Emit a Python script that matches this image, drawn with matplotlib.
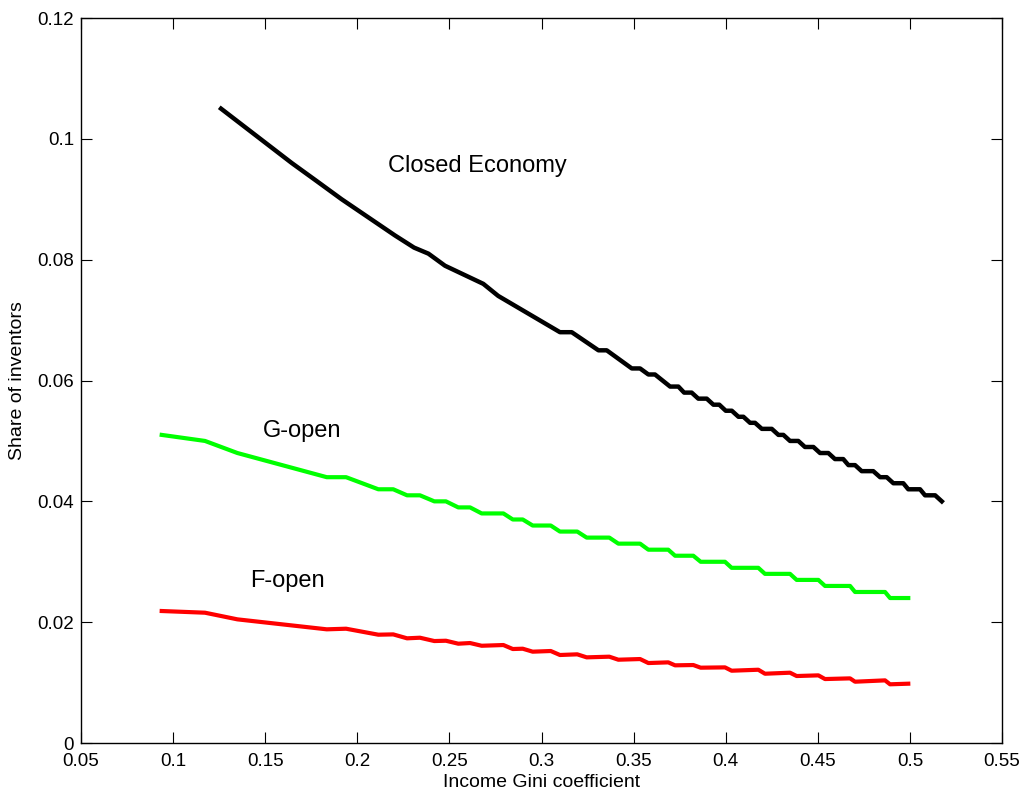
import matplotlib.pyplot as plt

# punkty zalamania
gini_closed = [0.126, 0.1644, 0.178, 0.1915, 0.2205, 0.2308, 0.2386, 0.2476, 0.2684, 0.2765,
               0.3100, 0.3164, 0.3309, 0.3354, 0.3490, 0.3535, 0.3580, 0.3616, 0.3698, 0.3743,
               0.3774, 0.3815, 0.3851, 0.3897, 0.3933, 0.3965, 0.4000, 0.4033, 0.4069, 0.4096,
               0.4132, 0.4159, 0.4196, 0.4250, 0.4286, 0.4313, 0.4349, 0.4394, 0.4430, 0.4476,
               0.4512, 0.4557, 0.4593, 0.4638, 0.4666, 0.4702, 0.4738, 0.4801, 0.4838, 0.4874,
               0.4910, 0.4964, 0.4991, 0.5055, 0.5082, 0.5137, 0.5173]
share_closed = [0.105, 0.096, 0.093, 0.090, 0.084, 0.082, 0.081, 0.079, 0.076, 0.074,
                0.068, 0.068, 0.065, 0.065, 0.062, 0.062, 0.061, 0.061, 0.059, 0.059,
                0.058, 0.058, 0.057, 0.057, 0.056, 0.056, 0.055, 0.055, 0.054, 0.054,
                0.053, 0.053, 0.052, 0.052, 0.051, 0.051, 0.050, 0.050, 0.049, 0.049,
                0.048, 0.048, 0.047, 0.047, 0.046, 0.046, 0.045, 0.045, 0.044, 0.044,
                0.043, 0.043, 0.042, 0.042, 0.041, 0.041, 0.040]

gini_open = [0.0938, 0.1173, 0.1349, 0.1834, 0.1939, 0.2114, 0.2195, 0.2270, 0.2340, 0.2418,
             0.2481, 0.2548, 0.2612, 0.2675, 0.2793, 0.2844, 0.2898, 0.2952, 0.3050, 0.3100,
             0.3194, 0.3245, 0.3368, 0.3417, 0.3535, 0.3580, 0.3688, 0.3725, 0.3824, 0.3864,
             0.3996, 0.4032, 0.4177, 0.4213, 0.4349, 0.4385, 0.4503, 0.4539, 0.4675, 0.4702,
             0.4865, 0.4892, 0.4991]
share_g_open = [0.051, 0.050, 0.048, 0.044, 0.044, 0.042, 0.042, 0.041, 0.041, 0.040,
                0.040, 0.039, 0.039, 0.038, 0.038, 0.037, 0.037, 0.036, 0.036, 0.035,
                0.035, 0.034, 0.034, 0.033, 0.033, 0.032, 0.032, 0.031, 0.031, 0.030,
                0.030, 0.029, 0.029, 0.028, 0.028, 0.027, 0.027, 0.026, 0.026, 0.025,
                0.025, 0.024, 0.024]
share_f_open = [0.02185, 0.02157, 0.02047, 0.01882, 0.01892, 0.01793, 0.01798, 0.01733, 0.01743, 0.01688,
                0.01693, 0.01644, 0.01655, 0.0161, 0.01622, 0.01556, 0.01561, 0.01512, 0.01523, 0.01457,
                0.01468, 0.01418, 0.01429, 0.01379, 0.0139, 0.01324, 0.01335, 0.01286, 0.01291, 0.01247,
                0.01252, 0.01197, 0.01213, 0.01147, 0.01164, 0.01109, 0.0112, 0.01059, 0.0107, 0.01015,
                0.01037, 0.00972, 0.00982]

xticks = [0.05, 0.1, 0.15, 0.2, 0.25, 0.3, 0.35, 0.4, 0.45, 0.5, 0.55]
yticks = [0, 0.02, 0.04, 0.06, 0.08, 0.1, 0.12]

plt.rcParams['font.family'] = ['Liberation Sans', 'DejaVu Sans']

fig = plt.figure(figsize=(10.23, 7.94), dpi=100)
ax = fig.add_axes([0.0792, 0.0642, 0.9003, 0.9131])

ax.plot(gini_closed, share_closed, color='black', lw=3.2)
ax.plot(gini_open, share_g_open, color='#00ff00', lw=3)
ax.plot(gini_open, share_f_open, color='#ff0000', lw=3)

ax.text(0.2167, 0.0955, 'Closed Economy', fontsize=17, va='center')
ax.text(0.1488, 0.0516, 'G-open', fontsize=17, va='center')
ax.text(0.1418, 0.0268, 'F-open', fontsize=17, va='center')

ax.set_xlim(0.05, 0.55)
ax.set_ylim(0, 0.12)
ax.set_xticks(xticks)
ax.set_xticklabels([f'{t:g}' for t in xticks])
ax.set_yticks(yticks)
ax.set_yticklabels([f'{t:g}' for t in yticks])
ax.tick_params(direction='in', length=8, width=0.8, top=True, right=True, labelsize=13.5)
ax.tick_params(axis='x', pad=7)
ax.tick_params(axis='y', pad=5)
ax.set_xlabel('Income Gini coefficient', fontsize=14, labelpad=3)
ax.set_ylabel('Share of inventors', fontsize=14, labelpad=8)
for s in ax.spines.values():
    s.set_linewidth(1.0)

plt.savefig('out.png', dpi=100)
